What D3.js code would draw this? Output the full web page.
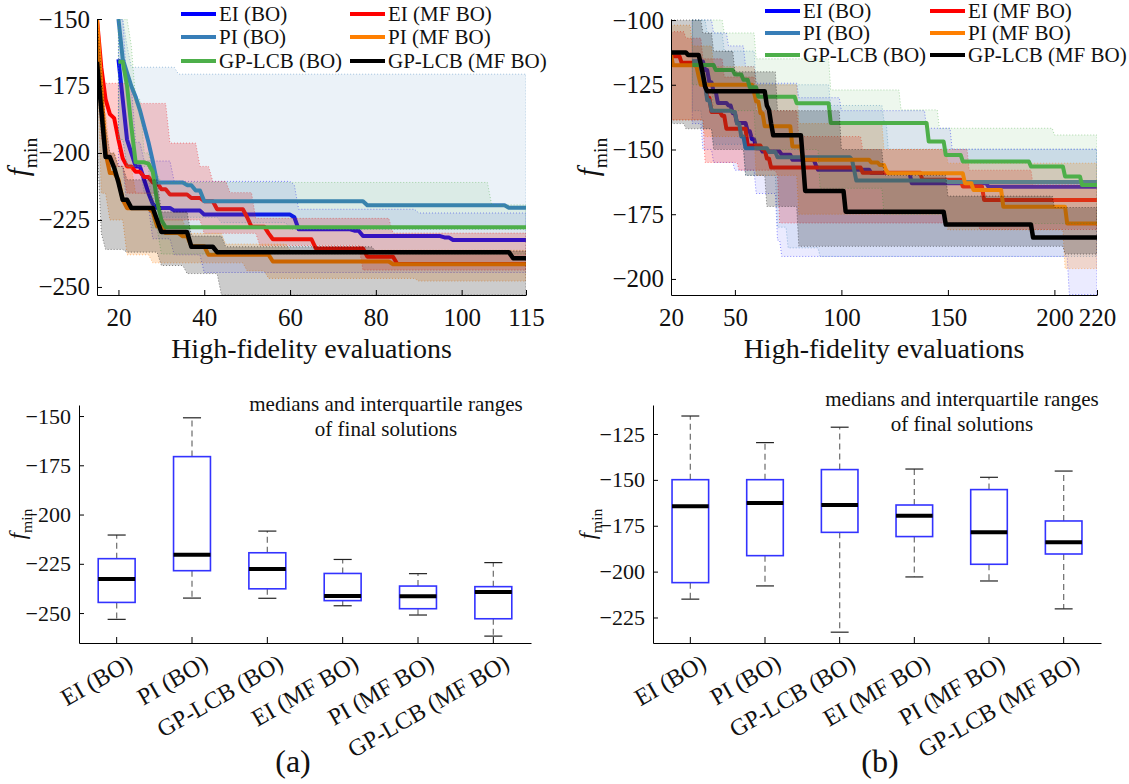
<!DOCTYPE html>
<html><head><meta charset="utf-8">
<script src="https://cdn.jsdelivr.net/npm/d3@7"></script>
<style>
body{margin:0;background:#fff;}
svg{display:block;font-family:"Liberation Serif","Times New Roman",serif;}
</style></head><body>
<svg id="fig" width="1129" height="784"></svg>
<script>
// ---------- series (drawing order = legend row order) ----------
const seriesNames  = ["EI (BO)", "EI (MF BO)", "PI (BO)", "PI (MF BO)", "GP-LCB (BO)", "GP-LCB (MF BO)"];
const seriesColors = ["#0000ff", "#ff0000", "#377eb8", "#ff7f00", "#4daf4a", "#000000"];
const seriesBandAlpha = [0.08, 0.20, 0.10, 0.20, 0.10, 0.20];

// ---------- (a) convergence: [evaluation, f_min] change points ----------
const aEiBoMed  = [[20,-165],[21,-180],[22,-195],[23,-200],[24,-205],[26,-210],[27,-215],[28,-219],[29,-220.5],[33,-221.5],[40,-223],[61,-224],[62,-228.5],[75,-229],[77,-231],[96,-231.5],[98,-232.5]];
const aEiBoQ3   = [[20,-150],[22,-175],[24,-196],[26,-203],[33,-210.6],[61,-212],[62,-221],[90,-222.4]];
const aEiBoQ1   = [[20,-205],[22,-220],[28,-232],[33,-238],[40,-244.6]];
const aEiMfMed  = [[15,-150],[16,-168],[17,-180],[18,-185.5],[19,-187],[20,-195],[21,-202],[22,-205],[24,-207],[26,-209],[28,-211],[30,-213.5],[32,-215.5],[37,-216.8],[40,-218],[43,-221],[50,-224],[51,-227.5],[55,-230],[56,-232.2],[66,-235.6],[78,-238.7],[85,-241.4]];
const aEiMfQ3   = [[15,-150],[16,-174],[24,-181.5],[32,-196.3],[39,-205],[42,-210.6],[46,-214.8],[52,-224.4],[84,-229.9]];
const aEiMfQ1   = [[15,-160],[16,-195],[18,-205],[22,-215],[30,-225],[40,-230],[53,-234.5],[77,-243.7]];
const aPiBoMed  = [[20,-150],[21,-165],[22,-170],[23,-175],[24,-179],[25,-184],[26,-190],[27,-196],[28,-203],[29,-211],[36,-212],[38,-214],[40,-218],[78,-219.5],[111,-220.4]];
const aPiBoQ3   = [[20,-150],[22,-160],[23,-168],[34,-170.6]];
const aPiBoQ1   = [[20,-195],[22,-205],[26,-215],[30,-224],[44,-226],[60,-228.5]];
const aPiMfMed  = [[15,-150],[16,-175],[17,-200],[18,-207.5],[20,-210],[21,-217.5],[22,-220.6],[28,-222],[29,-227.4],[31,-229.9],[35,-231.1],[37,-234.8],[41,-238],[56,-240.5],[84,-241.5]];
const aPiMfQ3   = [[15,-150],[16,-185],[18,-200],[20,-205],[24,-215],[29,-225],[36,-230],[45,-234],[60,-236.3]];
const aPiMfQ1   = [[15,-165],[16,-215],[18,-225],[22,-238],[28,-241],[50,-244],[55,-246.8],[90,-247.8]];
const aGpBoMed  = [[20,-166],[22,-175],[23,-190],[24,-203.5],[27,-204],[28,-207],[29,-218],[30,-225],[31,-227.7]];
const aGpBoQ3   = [[20,-150],[23,-160],[24,-180],[26,-200],[28,-208],[30,-211],[107,-219.4]];
const aGpBoQ1   = [[20,-195],[22,-205],[28,-228],[30,-237.7]];
const aGpMfMed  = [[15,-166],[16,-184],[17,-201.5],[19,-205.5],[20,-211],[21,-217.5],[23,-220.5],[29,-225],[30,-229.5],[37,-235],[43,-237],[112,-239.3]];
const aGpMfQ3   = [[15,-150],[16,-170],[17,-190],[18,-200],[20,-205],[22,-210],[30,-222],[37,-231],[45,-235],[80,-236.6]];
const aGpMfQ1   = [[15,-195],[16,-230],[17,-236],[22,-237],[30,-242],[36,-245],[44,-253]];

// ---------- (b) convergence ----------
const bEiBoMed  = [[30,-116],[36,-119.3],[38,-124],[40,-127.6],[42,-132],[47,-133],[49,-136],[51,-139.8],[56,-143],[58,-146],[60,-149.5],[63,-150.8],[72,-152],[77,-154],[88,-156],[89,-157.8],[114,-159.1],[133,-163],[169,-164.4]];
const bEiBoQ3   = [[30,-100],[40,-105],[47,-110],[55,-118],[60,-124.4],[80,-130],[100,-135],[140,-141.8],[152,-149.9]];
const bEiBoQ1   = [[30,-140],[35,-150],[40,-155],[50,-158],[60,-167],[70,-185],[72,-191.3],[207,-206]];
const bEiMfMed  = [[20,-114],[25,-116.5],[33,-118],[34,-121],[35,-124.5],[37,-130],[39,-135.5],[44,-137],[46,-142],[56,-148.5],[63,-150],[65,-153.5],[67,-157],[110,-159],[138,-161.7],[157,-164.3],[167,-169.5]];
const bEiMfQ3   = [[20,-104.5],[27,-107],[35,-115],[45,-122],[60,-135],[80,-145],[110,-150],[160,-158],[190,-163.7]];
const bEiMfQ1   = [[20,-138.6],[36,-155],[52,-158],[70,-160],[71,-178.4],[165,-180.9]];
const bPiBoMed  = [[30,-116],[33,-120],[35,-125],[37,-131],[39,-135],[49,-135.5],[51,-140],[53,-145],[55,-149.5],[66,-151],[70,-153],[105,-154],[106,-158],[107,-162],[150,-162.6]];
const bPiBoQ3   = [[30,-100],[37,-105],[45,-112],[60,-125],[95,-133],[120,-139],[122,-149.9]];
const bPiBoQ1   = [[30,-135],[35,-142],[40,-148],[55,-160],[70,-180],[75,-188],[90,-191.3]];
const bPiMfMed  = [[20,-113.5],[21,-117.5],[32,-118],[33,-121.8],[34,-125],[59,-128],[60,-131.5],[62,-136],[64,-141],[77,-148.8],[82,-154],[114,-155],[118,-156],[121,-158],[122,-159.2],[158,-163],[162,-165.6],[176,-172.1],[206,-178.6]];
const bPiMfQ3   = [[20,-102],[30,-110],[40,-118],[60,-125],[80,-140],[120,-150],[150,-155.3]];
const bPiMfQ1   = [[20,-138.6],[36,-145],[60,-160],[80,-175],[150,-181],[205,-196]];
const bGpBoMed  = [[30,-117.4],[41,-119.3],[50,-121],[54,-123.1],[57,-126],[61,-129.6],[79,-132.1],[95,-139.8],[141,-146.9],[149,-152.1],[157,-154.6],[189,-156.6],[205,-160.4],[213,-163.7]];
const bGpBoQ3   = [[30,-100],[45,-105],[60,-115],[95,-127],[128,-134.7],[146,-141.8],[200,-144.4]];
const bGpBoQ1   = [[30,-125],[40,-135],[60,-150],[90,-165],[120,-175],[150,-178.6]];
const bGpMfMed  = [[20,-112.5],[28,-113.5],[34,-117],[35,-121],[36,-125.7],[37,-127.5],[65,-133],[66,-134.7],[67,-140],[68,-144.5],[82,-155],[83,-166],[102,-174],[149,-179],[190,-184]];
const bGpMfQ3   = [[20,-100],[33,-100],[35,-105],[40,-112],[50,-120],[70,-135],[100,-150],[120,-160],[150,-168],[200,-172.4]];
const bGpMfQ1   = [[20,-140],[27,-142],[40,-150],[55,-160],[65,-172],[80,-187.4],[205,-190.4]];

// ---------- final solutions (box plots) ----------
const boxCategories = ["EI (BO)", "PI (BO)", "GP-LCB (BO)", "EI (MF BO)", "PI (MF BO)", "GP-LCB (MF BO)"];
const boxAUpperWhisker = [-210.4, -150.9, -208.4, -222.8, -230.0, -224.4];
const boxAQ3           = [-222.4, -170.6, -219.4, -229.9, -236.3, -236.6];
const boxAMedian       = [-232.7, -220.4, -227.7, -241.4, -241.5, -239.3];
const boxAQ1           = [-244.6, -228.5, -237.7, -243.7, -247.8, -252.9];
const boxALowerWhisker = [-253.2, -242.4, -242.5, -246.3, -251.0, -261.7];
const boxBUpperWhisker = [-115.2, -129.7, -121.3, -144.1, -148.6, -145.2];
const boxBQ3           = [-149.9, -149.9, -144.4, -163.7, -155.3, -172.4];
const boxBMedian       = [-164.4, -162.6, -163.7, -169.5, -178.6, -184.0];
const boxBQ1           = [-206.0, -191.3, -178.6, -180.9, -196.0, -190.4];
const boxBLowerWhisker = [-215.0, -207.8, -233.0, -202.9, -205.1, -220.3];

// ---------- tick labels ----------
const aXTicks = [20, 40, 60, 80, 100, 115];
const aYTicks = [-150, -175, -200, -225, -250];
const bXTicks = [20, 50, 100, 150, 200, 220];
const bYTicks = [-100, -125, -150, -175, -200];
const boxAYTicks = [-150, -175, -200, -225, -250];
const boxBYTicks = [-125, -150, -175, -200, -225];

// ---------- helpers ----------
const svg = d3.select("#fig");
const FONT = '"Liberation Serif","Times New Roman",serif';

// vertices of a staircase whose value moves to y over the step that ends at x
function stepVerts(pts, xEnd) {
  const out = [pts[0]];
  for (let i = 1; i < pts.length; i++) {
    const [x, y] = pts[i];
    const last = out[out.length - 1];
    if (x - 1 > last[0]) out.push([x - 1, last[1]]);
    out.push([x, y]);
  }
  const last = out[out.length - 1];
  if (last[0] < xEnd) out.push([xEnd, last[1]]);
  return out;
}

function styleAxis(g, size) {
  g.attr("font-family", FONT).attr("font-size", size);
  g.selectAll("path.domain").attr("stroke", "#000").attr("stroke-width", 1);
  g.selectAll(".tick line").attr("stroke", "#000").attr("stroke-width", 1);
  g.selectAll(".tick text").attr("fill", "#111").attr("font-family", FONT).attr("font-size", size);
}

function yLabel(x, y, size) {
  const t = svg.append("text").attr("transform", `translate(${x},${y}) rotate(-90)`)
    .attr("text-anchor", "middle").attr("font-family", FONT).attr("fill", "#111");
  t.append("tspan").attr("font-style", "italic").attr("font-size", size).text("f");
  t.append("tspan").attr("dy", (size * 0.3) + "px").attr("font-size", size * 0.68).text("min");
}

function drawConvergence(cfg, id) {
  const x = d3.scaleLinear().domain(cfg.xDomain).range(cfg.xRange);
  const y = d3.scaleLinear().domain(cfg.yDomain).range(cfg.yRange);
  const clipId = "clip" + id;
  svg.append("clipPath").attr("id", clipId).append("rect")
    .attr("x", cfg.xRange[0]).attr("y", cfg.yRange[1])
    .attr("width", cfg.xRange[1] - cfg.xRange[0]).attr("height", cfg.yRange[0] - cfg.yRange[1]);
  const plot = svg.append("g").attr("clip-path", `url(#${clipId})`);
  const line = d3.line().x(d => x(d[0])).y(d => y(d[1]));
  const xEnd = cfg.xDomain[1];

  cfg.series.forEach((s, i) => {
    const up = stepVerts(s.q3, xEnd), lo = stepVerts(s.q1, xEnd);
    plot.append("path")
      .attr("d", line(up.concat(lo.slice().reverse())) + "Z")
      .attr("fill", seriesColors[i]).attr("fill-opacity", seriesBandAlpha[i])
      .attr("stroke", seriesColors[i]).attr("stroke-opacity", 0.45)
      .attr("stroke-width", 1).attr("stroke-dasharray", "1,2");
    plot.append("path")
      .attr("d", line(stepVerts(s.med, xEnd)))
      .attr("fill", "none").attr("stroke", seriesColors[i])
      .attr("stroke-width", i === 5 ? 4.5 : 4).attr("stroke-linejoin", "round");
  });

  const gx = svg.append("g").attr("transform", `translate(0,${cfg.yRange[0]})`)
    .call(d3.axisBottom(x).tickValues(cfg.xTicks).tickFormat(d3.format("d"))
      .tickSizeInner(-5).tickSizeOuter(0).tickPadding(13));
  styleAxis(gx, 25);
  const gy = svg.append("g").attr("transform", `translate(${cfg.xRange[0]},0)`)
    .call(d3.axisLeft(y).tickValues(cfg.yTicks).tickSizeInner(-5).tickSizeOuter(0).tickPadding(7));
  styleAxis(gy, 25);

  svg.append("text").attr("x", (cfg.xRange[0] + cfg.xRange[1]) / 2).attr("y", 358)
    .attr("text-anchor", "middle").attr("font-family", FONT).attr("font-size", 28)
    .attr("fill", "#111").text("High-fidelity evaluations");
  yLabel(cfg.yLabelX, 157, 29);

  // legend: column 0 = BO, column 1 = MF BO
  seriesNames.forEach((name, i) => {
    const col = i % 2, row = Math.floor(i / 2);
    const lx = cfg.legendCols[col], ly = cfg.legendRows[row];
    svg.append("line").attr("x1", lx).attr("x2", lx + 35).attr("y1", ly).attr("y2", ly)
      .attr("stroke", seriesColors[i]).attr("stroke-width", 4);
    svg.append("text").attr("x", lx + 38).attr("y", ly).attr("dy", "0.35em")
      .attr("font-family", FONT).attr("font-size", 21).attr("fill", "#111").text(name);
  });
}

function drawBoxes(cfg) {
  const x = d3.scaleBand().domain(boxCategories).range(cfg.xRange);
  const y = d3.scaleLinear().domain(cfg.yDomain).range(cfg.yRange);
  const bw = x.bandwidth() * 0.49, cap = x.bandwidth() * 0.24;
  const g = svg.append("g");
  boxCategories.forEach((c, i) => {
    const cx = x(c) + x.bandwidth() / 2;
    g.append("line").attr("x1", cx).attr("x2", cx).attr("y1", y(cfg.q3[i])).attr("y2", y(cfg.hi[i]))
      .attr("stroke", "#777").attr("stroke-width", 1.3).attr("stroke-dasharray", "6,4");
    g.append("line").attr("x1", cx).attr("x2", cx).attr("y1", y(cfg.q1[i])).attr("y2", y(cfg.lo[i]))
      .attr("stroke", "#777").attr("stroke-width", 1.3).attr("stroke-dasharray", "6,4");
    [cfg.hi[i], cfg.lo[i]].forEach(v => g.append("line")
      .attr("x1", cx - cap / 2).attr("x2", cx + cap / 2).attr("y1", y(v)).attr("y2", y(v))
      .attr("stroke", "#222").attr("stroke-width", 1.2));
    g.append("rect").attr("x", cx - bw / 2).attr("width", bw)
      .attr("y", y(cfg.q3[i])).attr("height", y(cfg.q1[i]) - y(cfg.q3[i]))
      .attr("fill", "none").attr("stroke", "#3333ff").attr("stroke-width", 1.6);
    g.append("line").attr("x1", cx - bw / 2).attr("x2", cx + bw / 2)
      .attr("y1", y(cfg.med[i])).attr("y2", y(cfg.med[i]))
      .attr("stroke", "#000").attr("stroke-width", 4);
  });

  const gx = svg.append("g").attr("transform", `translate(0,${cfg.yRange[0]})`)
    .call(d3.axisBottom(x).tickSizeInner(-6).tickSizeOuter(0));
  styleAxis(gx, 24);
  gx.selectAll(".tick text").attr("x", 0).attr("y", 0).attr("dy", "0.8em")
    .attr("text-anchor", "end").attr("transform", "translate(8,8) rotate(-30)");
  const gy = svg.append("g").attr("transform", `translate(${cfg.xRange[0]},0)`)
    .call(d3.axisLeft(y).tickValues(cfg.yTicks).tickSizeInner(-5).tickSizeOuter(0).tickPadding(8));
  styleAxis(gy, 22);

  yLabel(cfg.yLabelX, 524, 23);
  cfg.note.forEach((t, k) => svg.append("text").attr("x", cfg.noteX).attr("y", cfg.noteY + k * 25)
    .attr("text-anchor", "middle").attr("font-family", FONT).attr("font-size", 21)
    .attr("fill", "#111").text(t));
  svg.append("text").attr("x", cfg.tagX).attr("y", 772).attr("text-anchor", "middle")
    .attr("font-family", FONT).attr("font-size", 32).attr("fill", "#111").text(cfg.tag);
}

const seriesA = [
  {med: aEiBoMed, q1: aEiBoQ1, q3: aEiBoQ3},
  {med: aEiMfMed, q1: aEiMfQ1, q3: aEiMfQ3},
  {med: aPiBoMed, q1: aPiBoQ1, q3: aPiBoQ3},
  {med: aPiMfMed, q1: aPiMfQ1, q3: aPiMfQ3},
  {med: aGpBoMed, q1: aGpBoQ1, q3: aGpBoQ3},
  {med: aGpMfMed, q1: aGpMfQ1, q3: aGpMfQ3}
];
const seriesB = [
  {med: bEiBoMed, q1: bEiBoQ1, q3: bEiBoQ3},
  {med: bEiMfMed, q1: bEiMfQ1, q3: bEiMfQ3},
  {med: bPiBoMed, q1: bPiBoQ1, q3: bPiBoQ3},
  {med: bPiMfMed, q1: bPiMfQ1, q3: bPiMfQ3},
  {med: bGpBoMed, q1: bGpBoQ1, q3: bGpBoQ3},
  {med: bGpMfMed, q1: bGpMfQ1, q3: bGpMfQ3}
];

drawConvergence({
  xDomain: [15, 115], xRange: [97, 526], yDomain: [-253, -150], yRange: [295, 19],
  xTicks: aXTicks, yTicks: aYTicks, series: seriesA, yLabelX: 28,
  legendCols: [181, 350], legendRows: [14, 37, 61]
}, "a");
drawConvergence({
  xDomain: [20, 220], xRange: [671, 1097], yDomain: [-206.2, -99.6], yRange: [295, 19],
  xTicks: bXTicks, yTicks: bYTicks, series: seriesB, yLabelX: 598,
  legendCols: [765, 930], legendRows: [11, 33, 55]
}, "b");

const note = ["medians and interquartile ranges", "of final solutions"];
drawBoxes({
  xRange: [79, 531], yDomain: [-265.2, -144.4], yRange: [643, 405], yTicks: boxAYTicks,
  hi: boxAUpperWhisker, q3: boxAQ3, med: boxAMedian, q1: boxAQ1, lo: boxALowerWhisker,
  yLabelX: 25, note: note, noteX: 386, noteY: 411, tag: "(a)", tagX: 293
});
drawBoxes({
  xRange: [653, 1101], yDomain: [-238.9, -109.2], yRange: [643, 405], yTicks: boxBYTicks,
  hi: boxBUpperWhisker, q3: boxBQ3, med: boxBMedian, q1: boxBQ1, lo: boxBLowerWhisker,
  yLabelX: 595, note: note, noteX: 962, noteY: 406, tag: "(b)", tagX: 880
});
</script>
</body></html>
